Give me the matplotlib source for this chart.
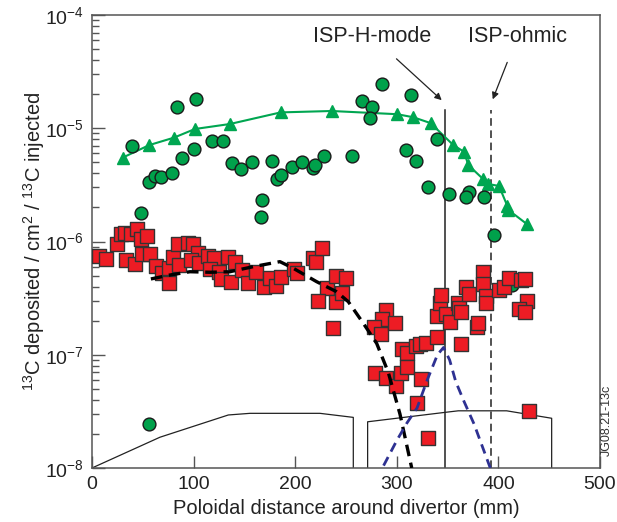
import matplotlib
matplotlib.use("Agg")
import matplotlib.pyplot as plt
from matplotlib.ticker import LogLocator, FixedLocator, NullFormatter

plt.rcParams['font.family'] = ['Liberation Sans', 'DejaVu Sans']
plt.rcParams['mathtext.fontset'] = 'custom'
plt.rcParams['mathtext.rm'] = 'Liberation Sans'
plt.rcParams['mathtext.it'] = 'Liberation Sans'
plt.rcParams['mathtext.bf'] = 'Liberation Sans'
plt.rcParams['mathtext.default'] = 'regular'

# ---- data ----
# green triangles (connected line)
tri_x = [30.2, 56.4, 80.7, 101.4, 135.8, 185.7, 235.9, 300.5, 316.3, 333.3,
         355.6, 366.1, 370.4, 385.2, 390.1, 400.6, 408.8, 409.8, 427.8]
tri_y = [5.5e-6, 7.1e-6, 8.26e-6, 9.85e-6, 1.09e-5, 1.38e-5, 1.42e-5, 1.33e-5, 1.25e-5, 1.11e-5,
         7.1e-6, 6.2e-6, 4.73e-6, 3.54e-6, 3.22e-6, 3.09e-6, 2.06e-6, 1.9e-6, 1.43e-6]

# green circles
circ_x = [39.7, 47.9, 56.1, 62.0, 67.9, 78.7, 83.3, 88.3, 100.4, 102.4,
          118.1, 129.2, 137.5, 146.7, 157.8, 167.3, 166.0, 176.9, 182.4, 186.3,
          196.9, 207.0, 217.2, 219.8, 228.6, 255.6, 266.1, 275.3, 273.6, 285.7,
          313.7, 309.1, 318.9, 339.9, 330.4, 351.4, 371.4, 368.1, 386.1, 395.3,
          413.0, 56.4]
circ_y = [6.97e-6, 1.77e-6, 3.33e-6, 3.81e-6, 3.69e-6, 4.05e-6, 1.55e-5, 5.42e-6, 6.52e-6, 1.82e-5,
          7.66e-6, 7.66e-6, 4.96e-6, 4.34e-6, 5.0e-6, 2.31e-6, 1.63e-6, 5.16e-6, 3.59e-6, 3.84e-6,
          4.58e-6, 5.04e-6, 4.46e-6, 4.77e-6, 5.69e-6, 5.69e-6, 1.73e-5, 1.55e-5, 1.24e-5, 2.46e-5,
          1.97e-5, 6.43e-6, 5.17e-6, 7.98e-6, 3.01e-6, 2.63e-6, 2.75e-6, 2.49e-6, 2.49e-6, 1.14e-6,
          4.13e-7, 2.45e-8]

# red squares
sq_x = [6.9, 13.5, 24.3, 28.5, 32.5, 38.4, 44.0, 48.2, 53.8, 33.2,
        42.3, 48.9, 57.1, 63.0, 68.6, 75.8, 76.1, 80.0, 85.0, 85.9,
        94.8, 99.7, 104.6, 97.4, 105.3, 114.5, 120.1, 116.1, 125.3, 126.7,
        134.2, 140.7, 136.5, 147.3, 153.9, 161.4, 169.3, 175.2, 181.1, 186.3,
        198.8, 202.1, 217.2, 220.2, 226.7, 231.0, 239.9, 250.0, 222.7, 239.9,
        245.8, 237.5, 289.4, 285.7, 277.9, 284.1, 298.5, 304.8, 309.7, 318.9,
        322.8, 328.4, 339.2, 339.9, 342.5, 343.5, 348.4, 352.4, 279.0, 289.4,
        298.9, 304.1, 309.7, 324.1, 319.6, 360.5, 361.2, 362.9, 368.1, 371.1,
        362.9, 378.6, 380.2, 385.2, 384.5, 387.8, 387.8, 400.3, 405.5, 410.4,
        421.9, 426.2, 428.5, 420.3, 426.2, 430.4, 330.4]
sq_y = [7.45e-7, 6.97e-7, 9.5e-7, 1.16e-6, 1.18e-6, 1.16e-6, 1.28e-6, 1.05e-6, 1.12e-6, 6.87e-7,
        6.33e-7, 7.7e-7, 7.7e-7, 6.11e-7, 5.24e-7, 5.8e-7, 4.27e-7, 7.34e-7, 9.5e-7, 6.2e-7,
        9.64e-7, 9.5e-7, 7.87e-7, 6.87e-7, 6.5e-7, 7.45e-7, 7.1e-7, 5.68e-7, 5.41e-7, 4.63e-7,
        7.25e-7, 6.64e-7, 4.42e-7, 5.6e-7, 4.33e-7, 5.41e-7, 3.99e-7, 4.73e-7, 4.05e-7, 4.89e-7,
        5.68e-7, 5.31e-7, 7.1e-7, 6.64e-7, 8.81e-7, 3.86e-7, 4.96e-7, 4.73e-7, 2.98e-7, 2.9e-7,
        3.49e-7, 1.71e-7, 2.48e-7, 2.07e-7, 1.77e-7, 1.52e-7, 1.92e-7, 1.12e-7, 1.04e-7, 1.19e-7,
        1.24e-7, 1.26e-7, 1.43e-7, 2.2e-7, 2.84e-7, 3.37e-7, 2.29e-7, 1.96e-7, 6.95e-8, 6.27e-8,
        5.33e-8, 6.95e-8, 7.74e-8, 6.07e-8, 3.72e-8, 2.84e-7, 2.57e-7, 2.4e-7, 3.99e-7, 3.44e-7,
        1.24e-7, 1.75e-7, 1.92e-7, 5.35e-7, 4.22e-7, 3.3e-7, 2.84e-7, 3.73e-7, 3.99e-7, 4.73e-7,
        4.57e-7, 4.65e-7, 2.98e-7, 2.55e-7, 2.4e-7, 3.2e-8, 1.83e-8]

# black dashed model curve
blk_x = [58.0, 76.8, 96.5, 116.0, 135.8, 158.8, 185.0, 198.2, 221.1, 240.8,
         252.3, 267.0, 280.2, 291.6, 303.1, 314.7]
blk_y = [4.67e-7, 5.06e-7, 5.41e-7, 5.35e-7, 5.41e-7, 6.0e-7, 6.64e-7, 5.8e-7, 4.42e-7, 3.6e-7,
         2.94e-7, 1.9e-7, 1.26e-7, 7.0e-8, 3.0e-8, 1.0e-8]

# blue dashed model curve
blu_x = [287.0, 300.0, 310.0, 320.0, 330.0, 340.0, 346.0, 352.0, 358.0, 366.0, 376.0, 392.0]
blu_y = [1.05e-8, 1.75e-8, 2.5e-8, 3.4e-8, 6.0e-8, 1.0e-7, 1.16e-7, 9.0e-8, 5.8e-8, 3.9e-8, 2.45e-8, 1.0e-8]

# divertor tile outlines
tile1_x = [0.0, 66.9, 134.2, 155.5, 224.4, 257.2, 257.2]
tile1_y = [1.0e-8, 1.87e-8, 2.94e-8, 3.04e-8, 3.04e-8, 2.8e-8, 1.0e-8]
tile2_x = [271.3, 271.3, 347.4, 360.5, 408.1, 452.4, 452.4]
tile2_y = [1.0e-8, 2.56e-8, 3.1e-8, 3.2e-8, 3.2e-8, 2.75e-8, 1.0e-8]

isp_h_x = 347.4
isp_ohm_x = 392.7
isp_top = 1.45e-5

x_ticks = [0, 100, 200, 300, 400, 500]

# ---- figure ----
fig = plt.figure(figsize=(6.17, 5.22), dpi=100)
ax = fig.add_axes([0.149, 0.1034, 0.8235, 0.8679])
ax.set_yscale('log')
ax.set_xlim(0, 500)
ax.set_ylim(1e-8, 1e-4)

ax.plot(tile1_x, tile1_y, color='#222222', lw=0.9, zorder=1)
ax.plot(tile2_x, tile2_y, color='#222222', lw=0.9, zorder=1)
ax.plot([isp_h_x, isp_h_x], [1e-8, isp_top], color='#222222', lw=1.1, zorder=1)
ax.plot([isp_ohm_x, isp_ohm_x], [1e-8, isp_top], color='#222222', lw=1.1,
        ls=(0, (5, 3)), zorder=1)

ax.plot(tri_x, tri_y, color='#00a651', lw=1.5, marker='^', ms=8,
        mfc='#00a651', mec='#00a651', zorder=2)
ax.scatter(circ_x, circ_y, s=85, marker='o', facecolor='#00a14b',
           edgecolor='#1a1a1a', linewidth=1.0, zorder=3)
ax.scatter(sq_x, sq_y, s=95, marker='s', facecolor='#ed1c24',
           edgecolor='#333333', linewidth=1.0, zorder=4)
ax.plot(blk_x, blk_y, color='black', lw=2.4, ls=(0, (3.5, 2.0)), zorder=5)
ax.plot(blu_x, blu_y, color='#2e3192', lw=2.0, ls=(0, (3.5, 2.2)), zorder=5)

ax.annotate('ISP-H-mode', xy=(344.2, 1.77e-5), xytext=(275.3, 6.5e-5),
            ha='center', va='center', fontsize=15.5, color='#222222',
            arrowprops=dict(arrowstyle='-|>', color='#222222', lw=0.9,
                            mutation_scale=10, shrinkA=10, shrinkB=0))
ax.annotate('ISP-ohmic', xy=(394.4, 1.8e-5), xytext=(418.8, 6.5e-5),
            ha='center', va='center', fontsize=15.5, color='#222222',
            arrowprops=dict(arrowstyle='-|>', color='#222222', lw=0.9,
                            mutation_scale=10, shrinkA=10, shrinkB=0))

ax.set_xticks(x_ticks)
ax.yaxis.set_major_locator(LogLocator(base=10, numticks=10))
ax.yaxis.set_minor_locator(LogLocator(base=10, subs=range(2, 10), numticks=10))
ax.yaxis.set_minor_formatter(NullFormatter())
ax.tick_params(axis='both', which='major', direction='in', length=9, width=1.0,
               color='#555555', labelsize=14, labelcolor='#222222', pad=6)
ax.tick_params(axis='y', which='minor', direction='in', length=5, width=1.0,
               color='#555555')
ax.tick_params(top=False, right=False)
for sp in ax.spines.values():
    sp.set_color('#555555')
    sp.set_linewidth(1.1)

ax.set_xlabel('Poloidal distance around divertor (mm)', fontsize=14.5,
              color='#222222', labelpad=4)
ax.set_ylabel(r'$^{13}$C deposited / cm$^{2}$ / $^{13}$C injected', fontsize=14.5,
              color='#222222', labelpad=-2)

fig.text(0.984, 0.195, 'JG08.21-13c', rotation=90, fontsize=9, color='#333333',
         ha='center', va='center')

fig.savefig('out.png', dpi=100)
